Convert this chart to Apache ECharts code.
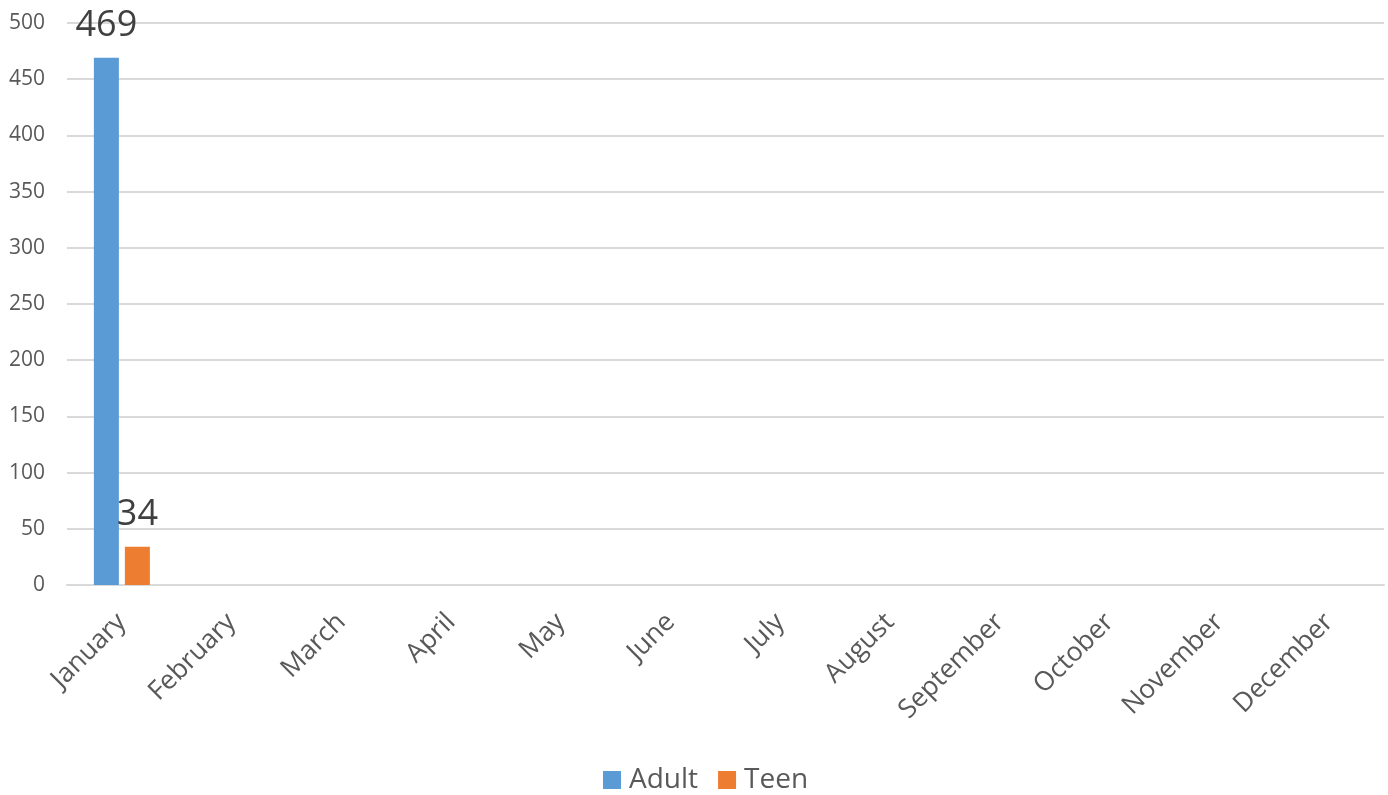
<!DOCTYPE html>
<html><head><meta charset="utf-8">
<script src="https://cdn.jsdelivr.net/npm/echarts@6/dist/echarts.min.js"></script>
<style>html,body{margin:0;padding:0;background:#fff}#c{width:1388px;height:795px}</style>
</head><body><div id="c"></div>
<script>
const categories = ['January','February','March','April','May','June','July','August','September','October','November','December'];
const adult = [469, null, null, null, null, null, null, null, null, null, null, null];
const teen = [34, null, null, null, null, null, null, null, null, null, null, null];
const yTicks = {min: 0, max: 500, interval: 50};

const chart = echarts.init(document.getElementById('c'));
const font = '"Open Sans", "Noto Sans", sans-serif';
const labelStyle = {show: true, position: 'top', distance: 14, fontSize: 36, color: '#404040', fontFamily: font,
  formatter: p => p.value == null ? '' : p.value};
chart.setOption({
  animation: false,
  textStyle: {fontFamily: font},
  grid: {left: 67, right: 4, top: 23, bottom: 210, containLabel: false},
  legend: {bottom: -4, left: 598, itemWidth: 18, itemHeight: 18, itemGap: 20,
    textStyle: {fontSize: 28, color: '#595959', fontFamily: font, padding: [0, 0, 0, 3]}, icon: 'rect',
    data: ['Adult','Teen']},
  xAxis: {type: 'category', data: categories,
    axisLine: {lineStyle: {color: '#d9d9d9', width: 2}}, axisTick: {show: false},
    axisLabel: {rotate: 45, fontSize: 26.5, color: '#595959', margin: 33, interval: 0, fontFamily: font}},
  yAxis: {type: 'value', min: yTicks.min, max: yTicks.max, interval: yTicks.interval,
    axisLine: {show: false}, axisTick: {show: false},
    axisLabel: {fontSize: 21, color: '#595959', margin: 22, fontFamily: font},
    splitLine: {lineStyle: {color: '#d9d9d9', width: 2}}},
  series: [
    {name: 'Adult', type: 'bar', data: adult, itemStyle: {color: '#5b9bd5'}, barWidth: 25, barGap: '24%', label: labelStyle},
    {name: 'Teen', type: 'bar', data: teen, itemStyle: {color: '#ed7d31'}, barWidth: 25, label: labelStyle}
  ]
});
</script></body></html>
